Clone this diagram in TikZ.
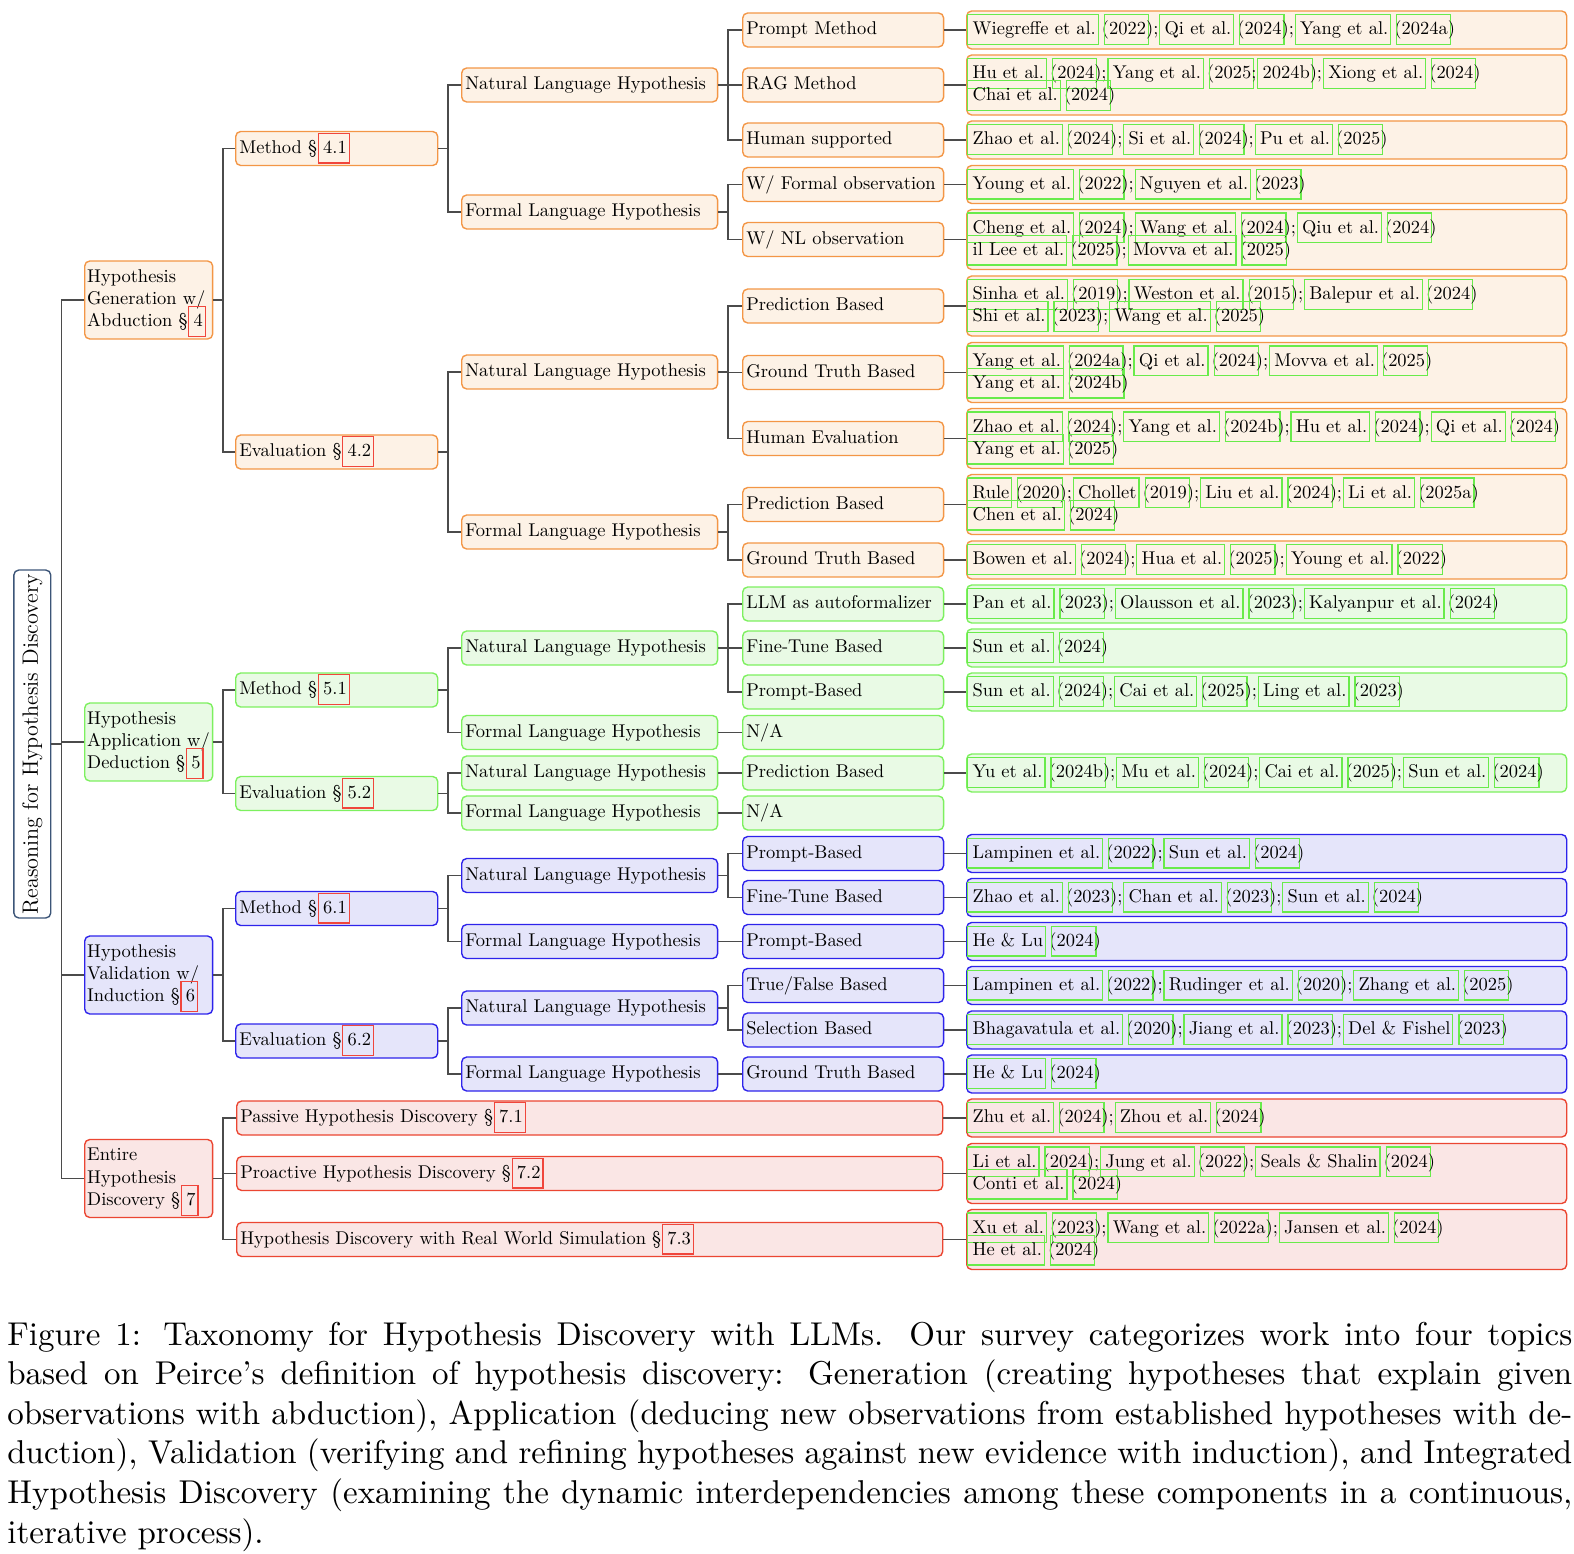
\documentclass[tikz,border=0pt]{standalone}
\usepackage{graphicx}
\setlength\parindent{0pt}
\definecolor{orB}{RGB}{243,150,70}
\definecolor{orF}{RGB}{253,242,230}
\definecolor{grB}{RGB}{125,240,95}
\definecolor{grF}{RGB}{233,250,229}
\definecolor{blB}{RGB}{45,35,235}
\definecolor{blF}{RGB}{229,229,250}
\definecolor{rdB}{RGB}{235,70,50}
\definecolor{rdF}{RGB}{250,230,229}
\definecolor{rtB}{RGB}{60,85,120}
\definecolor{cnC}{RGB}{75,75,75}
\definecolor{lkG}{RGB}{105,235,75}
\definecolor{lkR}{RGB}{240,70,60}
\newcommand\lnkbox[2]{\leavevmode\setbox0\hbox{#2}\dimen2=\wd0 \advance\dimen2 by 4.6pt
  \rlap{\kern-2.95pt\smash{\color{#1}\setlength\fboxsep{0pt}\setlength\fboxrule{0.65pt}\framebox[\dimen2]{\rule[-5pt]{0pt}{15.5pt}}}}\box0}
\newcommand\cte[2]{\lnkbox{lkG}{#1}~(\lnkbox{lkG}{#2})}
\newcommand\srf[1]{\lnkbox{lkR}{#1}}
\newcommand\strutx{\rule[-2.5pt]{0pt}{10pt}}
\tikzset{
  nd/.style={draw, rounded corners=2.7pt, line width=0.75pt, align=left, anchor=west,
    inner ysep=0pt, execute at begin node=\strutx, execute at end node=\strutx},
  og/.style={draw=orB, fill=orF}, gn/.style={draw=grB, fill=grF},
  bl/.style={draw=blB, fill=blF}, rd/.style={draw=rdB, fill=rdF},
  lvone/.style={nd, text width=66.6pt, inner xsep=1.35pt, minimum height=42.2pt},
  lvtwo/.style={nd, text width=105.4pt, inner xsep=2pt, minimum height=18.4pt},
  lvthree/.style={nd, text width=134.6pt, inner xsep=2pt, minimum height=18.4pt},
  lvfour/.style={nd, text width=104.8pt, inner xsep=2pt, minimum height=18.4pt},
  wide/.style={nd, text width=378.3pt, inner xsep=2pt, minimum height=18.4pt},
  leaf/.style={nd, text width=318.4pt, inner xsep=3.25pt, minimum height=20.6pt},
  leafii/.style={leaf, minimum height=32.5pt},
  conn/.style={draw=cnC, line width=1pt}
}
\begin{document}
\begin{tikzpicture}[x=0.5415pt, y=-0.5415pt]
\useasboundingbox (0,0) rectangle (1574,1554);
% root
\node[draw=rtB, fill=white, line width=0.75pt, rounded corners=2.7pt, rotate=90,
  minimum width=188.4pt, minimum height=20pt, inner sep=0pt,
  font=\fontsize{12}{14}\selectfont] (root) at (32.3,744) {Reasoning for Hypothesis Discovery};
% level 1
\node[lvone, og] (g) at (84,300) {Hypothesis\\Generation~w/\\Abduction~\S~\srf{4}};
\node[lvone, gn] (a) at (84,742) {Hypothesis\\Application~w/\\Deduction~\S~\srf{5}};
\node[lvone, bl] (v) at (84,975) {Hypothesis\\Validation~w/\\Induction~\S~\srf{6}};
\node[lvone, rd] (e) at (84,1178.5) {Entire\\Hypothesis\\Discovery~\S~\srf{7}};
% level 2
\node[lvtwo, og] (gm) at (235,148.5) {Method \S~\srf{4.1}};
\node[lvtwo, og] (ge) at (235,452) {Evaluation \S~\srf{4.2}};
\node[lvtwo, gn] (am) at (235,690) {Method \S~\srf{5.1}};
\node[lvtwo, gn] (ae) at (235,793.5) {Evaluation \S~\srf{5.2}};
\node[lvtwo, bl] (vm) at (235,908.5) {Method \S~\srf{6.1}};
\node[lvtwo, bl] (ve) at (235,1041) {Evaluation \S~\srf{6.2}};
\node[wide, rd] (e1) at (236,1118) {Passive Hypothesis Discovery \S~\srf{7.1}};
\node[wide, rd] (e2) at (236,1173.5) {Proactive Hypothesis Discovery \S~\srf{7.2}};
\node[wide, rd] (e3) at (236,1239.5) {Hypothesis Discovery with Real World Simulation \S~\srf{7.3}};
% level 3
\node[lvthree, og] (gmn) at (461,85) {Natural Language Hypothesis};
\node[lvthree, og] (gmf) at (461,212) {Formal Language Hypothesis};
\node[lvthree, og] (gen) at (461,372) {Natural Language Hypothesis};
\node[lvthree, og] (gef) at (461,532) {Formal Language Hypothesis};
\node[lvthree, gn] (amn) at (461,648) {Natural Language Hypothesis};
\node[lvthree, gn] (amf) at (461,732.5) {Formal Language Hypothesis};
\node[lvthree, gn] (aen) at (461,773) {Natural Language Hypothesis};
\node[lvthree, gn] (aef) at (461,813) {Formal Language Hypothesis};
\node[lvthree, bl] (vmn) at (461,875.5) {Natural Language Hypothesis};
\node[lvthree, bl] (vmf) at (461,941.5) {Formal Language Hypothesis};
\node[lvthree, bl] (ven) at (461,1008) {Natural Language Hypothesis};
\node[lvthree, bl] (vef) at (461,1074) {Formal Language Hypothesis};
% level 4
\node[lvfour, og] (p1) at (742,30) {Prompt Method};
\node[lvfour, og] (p2) at (742,85) {RAG Method};
\node[lvfour, og] (p3) at (742,140) {Human supported};
\node[lvfour, og] (p4) at (742,184.5) {W/ Formal observation};
\node[lvfour, og] (p5) at (742,239.5) {W/ NL observation};
\node[lvfour, og] (p6) at (742,306) {Prediction Based};
\node[lvfour, og] (p7) at (742,372.5) {Ground Truth Based};
\node[lvfour, og] (p8) at (742,438.5) {Human Evaluation};
\node[lvfour, og] (p9) at (742,504.5) {Prediction Based};
\node[lvfour, og] (p10) at (742,560) {Ground Truth Based};
\node[lvfour, gn] (p11) at (742,604) {LLM as autoformalizer};
\node[lvfour, gn] (p12) at (742,648) {Fine-Tune Based};
\node[lvfour, gn] (p13) at (742,692) {Prompt-Based};
\node[lvfour, gn] (p14) at (742,732.5) {N/A};
\node[lvfour, gn] (p15) at (742,773) {Prediction Based};
\node[lvfour, gn] (p16) at (742,813) {N/A};
\node[lvfour, bl] (p17) at (742,853.5) {Prompt-Based};
\node[lvfour, bl] (p18) at (742,897.5) {Fine-Tune Based};
\node[lvfour, bl] (p19) at (742,941.5) {Prompt-Based};
\node[lvfour, bl] (p20) at (742,985.5) {True/False Based};
\node[lvfour, bl] (p21) at (742,1030) {Selection Based};
\node[lvfour, bl] (p22) at (742,1074) {Ground Truth Based};
% leaves
\node[leaf, og] (l1) at (966,30) {\cte{Wiegreffe et al.}{2022}; \cte{Qi et al.}{2024}; \cte{Yang et al.}{2024a}};
\node[leafii, og] (l2) at (966,85) {\cte{Hu et al.}{2024}; \lnkbox{lkG}{Yang et al.}~(\lnkbox{lkG}{2025}; \lnkbox{lkG}{2024b}); \cte{Xiong et al.}{2024}\\\cte{Chai et al.}{2024}};
\node[leaf, og] (l3) at (966,140) {\cte{Zhao et al.}{2024}; \cte{Si et al.}{2024}; \cte{Pu et al.}{2025}};
\node[leaf, og] (l4) at (966,184.5) {\cte{Young et al.}{2022}; \cte{Nguyen et al.}{2023}};
\node[leafii, og] (l5) at (966,239.5) {\cte{Cheng et al.}{2024}; \cte{Wang et al.}{2024}; \cte{Qiu et al.}{2024}\\\cte{il Lee et al.}{2025}; \cte{Movva et al.}{2025}};
\node[leafii, og] (l6) at (966,306) {\cte{Sinha et al.}{2019}; \cte{Weston et al.}{2015}; \cte{Balepur et al.}{2024}\\\cte{Shi et al.}{2023}; \cte{Wang et al.}{2025}};
\node[leafii, og] (l7) at (966,372.5) {\cte{Yang et al.}{2024a}; \cte{Qi et al.}{2024}; \cte{Movva et al.}{2025}\\\cte{Yang et al.}{2024b}};
\node[leafii, og] (l8) at (966,438.5) {\cte{Zhao et al.}{2024}; \cte{Yang et al.}{2024b}; \cte{Hu et al.}{2024}; \cte{Qi et al.}{2024}\\\cte{Yang et al.}{2025}};
\node[leafii, og] (l9) at (966,504.5) {\cte{Rule}{2020}; \cte{Chollet}{2019}; \cte{Liu et al.}{2024}; \cte{Li et al.}{2025a}\\\cte{Chen et al.}{2024}};
\node[leaf, og] (l10) at (966,560) {\cte{Bowen et al.}{2024}; \cte{Hua et al.}{2025}; \cte{Young et al.}{2022}};
\node[leaf, gn] (l11) at (966,604) {\cte{Pan et al.}{2023}; \cte{Olausson et al.}{2023}; \cte{Kalyanpur et al.}{2024}};
\node[leaf, gn] (l12) at (966,648) {\cte{Sun et al.}{2024}};
\node[leaf, gn] (l13) at (966,692) {\cte{Sun et al.}{2024}; \cte{Cai et al.}{2025}; \cte{Ling et al.}{2023}};
\node[leaf, gn] (l15) at (966,773) {\cte{Yu et al.}{2024b}; \cte{Mu et al.}{2024}; \cte{Cai et al.}{2025}; \cte{Sun et al.}{2024}};
\node[leaf, bl] (l17) at (966,853.5) {\cte{Lampinen et al.}{2022}; \cte{Sun et al.}{2024}};
\node[leaf, bl] (l18) at (966,897.5) {\cte{Zhao et al.}{2023}; \cte{Chan et al.}{2023}; \cte{Sun et al.}{2024}};
\node[leaf, bl] (l19) at (966,941.5) {\cte{He \& Lu}{2024}};
\node[leaf, bl] (l20) at (966,985.5) {\cte{Lampinen et al.}{2022}; \cte{Rudinger et al.}{2020}; \cte{Zhang et al.}{2025}};
\node[leaf, bl] (l21) at (966,1030) {\cte{Bhagavatula et al.}{2020}; \cte{Jiang et al.}{2023}; \cte{Del \& Fishel}{2023}};
\node[leaf, bl] (l22) at (966,1074) {\cte{He \& Lu}{2024}};
\node[leaf, rd] (l23) at (966,1118) {\cte{Zhu et al.}{2024}; \cte{Zhou et al.}{2024}};
\node[leafii, rd] (l24) at (966,1173.5) {\cte{Li et al.}{2024}; \cte{Jung et al.}{2022}; \cte{Seals \& Shalin}{2024}\\\cte{Conti et al.}{2024}};
\node[leafii, rd] (l25) at (966,1239.5) {\cte{Xu et al.}{2023}; \cte{Wang et al.}{2022a}; \cte{Jansen et al.}{2024}\\\cte{He et al.}{2024}};
% connectors
\foreach \c in {g,a,v,e} \draw[conn] (root.south) -- ++(10,0) |- (\c.west);
\foreach \p/\c in {g/gm,g/ge,a/am,a/ae,v/vm,v/ve,e/e1,e/e2,e/e3}
  \draw[conn] (\p.east) -- ++(9.5,0) |- (\c.west);
\foreach \p/\c in {gm/gmn,gm/gmf,ge/gen,ge/gef,am/amn,am/amf,ae/aen,ae/aef,vm/vmn,vm/vmf,ve/ven,ve/vef}
  \draw[conn] (\p.east) -- ++(9.5,0) |- (\c.west);
\foreach \p/\c in {gmn/p1,gmn/p2,gmn/p3,gmf/p4,gmf/p5,gen/p6,gen/p7,gen/p8,gef/p9,gef/p10,amn/p11,amn/p12,amn/p13,amf/p14,aen/p15,aef/p16,vmn/p17,vmn/p18,vmf/p19,ven/p20,ven/p21,vef/p22}
  \draw[conn] (\p.east) -- ++(10,0) |- (\c.west);
\foreach \p/\c in {p1/l1,p2/l2,p3/l3,p4/l4,p5/l5,p6/l6,p7/l7,p8/l8,p9/l9,p10/l10,p11/l11,p12/l12,p13/l13,p15/l15,p17/l17,p18/l18,p19/l19,p20/l20,p21/l21,p22/l22,e1/l23,e2/l24,e3/l25}
  \draw[conn] (\p.east) -- (\c.west);
% caption
\node[anchor=base west, inner sep=0pt] (cap) at (7,1345) {\scalebox{1.787}{\parbox[t]{474.2pt}{\fontsize{10}{12}\selectfont
Figure 1: Taxonomy for Hypothesis Discovery with LLMs. Our survey categorizes work into four topics\linebreak
based on Peirce's definition of hypothesis discovery: Generation (creating hypotheses that explain given\linebreak
observations with abduction), Application (deducing new observations from established hypotheses with de-\linebreak
duction), Validation (verifying and refining hypotheses against new evidence with induction), and Integrated\linebreak
Hypothesis Discovery (examining the dynamic interdependencies among these components in a continuous,\linebreak
iterative process).}}};
\end{tikzpicture}
\end{document}
